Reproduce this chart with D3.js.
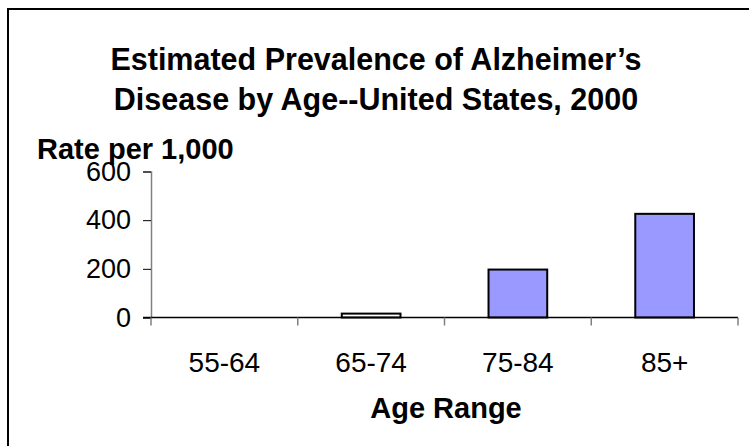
<!DOCTYPE html>
<html>
<head>
<meta charset="utf-8">
<script src="https://cdn.jsdelivr.net/npm/d3@7"></script>
<style>
  html, body { margin: 0; padding: 0; background: #fff; overflow: hidden; }
  text { font-family: "Liberation Sans", Arial, Helvetica, sans-serif; }
</style>
</head>
<body>
<script>
const categories = ["55-64", "65-74", "75-84", "85+"];
const values = [0, 16, 197, 426];
const yTicks = [0, 200, 400, 600];
const titleLines = ["Estimated Prevalence of Alzheimer\u2019s", "Disease by Age--United States, 2000"];
const yAxisTitle = "Rate per 1,000";
const xAxisTitle = "Age Range";

const W = 749, H = 446;
const svg = d3.select("body").append("svg").attr("width", W).attr("height", H);

// outer frame
svg.append("rect").attr("x", 8).attr("y", 9).attr("width", W + 20).attr("height", H + 20)
  .attr("fill", "#fff").attr("stroke", "#000").attr("stroke-width", 2);

const pLeft = 151, pRight = 738, pTop = 171.5, pBottom = 317.5;
const x = d3.scaleBand().domain(categories).range([pLeft, pRight]).paddingInner(0.6).paddingOuter(0.3);
const y = d3.scaleLinear().domain([0, 600]).range([pBottom, pTop]);

// title
svg.append("g").selectAll("text").data(titleLines).join("text")
  .attr("x", 376).attr("y", (d, i) => 70 + i * 40)
  .attr("text-anchor", "middle").attr("font-weight", "bold").attr("font-size", 30.5)
  .attr("fill", "#000").text(d => d);

// y axis
const yAxis = svg.append("g").attr("transform", `translate(${pLeft},0)`)
  .call(d3.axisLeft(y).tickValues(yTicks).tickSize(8).tickPadding(12).tickFormat(d3.format("d")));
yAxis.select(".domain").attr("stroke", "#808080").attr("stroke-width", 1.5);
yAxis.selectAll(".tick line").attr("stroke", "#000");
yAxis.selectAll("text").attr("font-size", 27).attr("fill", "#000")
  .attr("font-family", "'Liberation Sans', Arial, sans-serif");

// bars
const step = x.step(), bw = x.bandwidth();
svg.append("g").selectAll("rect").data(values).join("rect")
  .attr("x", (d, i) => x(categories[i]))
  .attr("y", d => y(d))
  .attr("width", bw)
  .attr("height", d => pBottom - y(d))
  .attr("fill", d => (pBottom - y(d)) < 6 ? "#fff" : "#9999ff")
  .attr("stroke", "#000").attr("stroke-width", 2)
  .attr("display", d => d > 0 ? null : "none");

// x axis
const boundaries = categories.map(c => x(c) - (step - bw) / 2).concat([pRight]);
const gx = svg.append("g");
gx.append("line").attr("x1", pLeft - 8).attr("x2", pRight).attr("y1", pBottom).attr("y2", pBottom)
  .attr("stroke", "#000").attr("stroke-width", 1.5);
gx.selectAll("line.tk").data(boundaries).join("line").attr("class", "tk")
  .attr("x1", d => d).attr("x2", d => d).attr("y1", pBottom).attr("y2", pBottom + 8)
  .attr("stroke", "#808080").attr("stroke-width", 1.5);
gx.selectAll("text").data(categories).join("text")
  .attr("x", d => x(d) + bw / 2).attr("y", 372)
  .attr("text-anchor", "middle").attr("font-size", 28).attr("fill", "#000").text(d => d);

// axis titles
svg.append("text").attr("x", 37).attr("y", 159).attr("font-weight", "bold")
  .attr("font-size", 29).attr("fill", "#000").text(yAxisTitle);
svg.append("text").attr("x", 446).attr("y", 418).attr("text-anchor", "middle")
  .attr("font-weight", "bold").attr("font-size", 29).attr("fill", "#000").text(xAxisTitle);
</script>
</body>
</html>
